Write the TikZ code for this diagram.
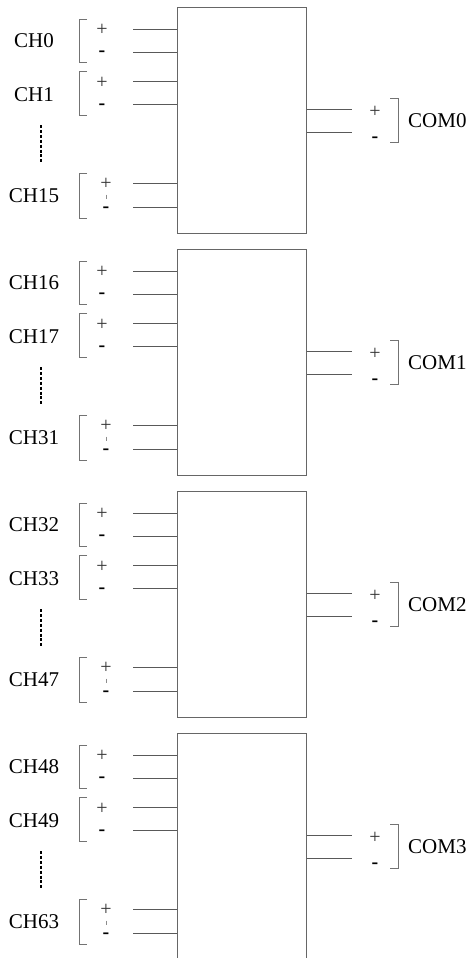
\documentclass[tikz,border=0pt]{standalone}
\usepackage{fontspec}
\setmainfont{Liberation Serif}

\tikzset{
  wire/.style={draw=black!65,line width=0.8pt},
  chbox/.style={draw=black!60,line width=0.9pt,inner sep=0pt,
    minimum width=129pt,minimum height=226pt,anchor=north west},
  brk/.style={draw=black!55,line width=0.8pt},
  chlabel/.style={font=\fontsize{21}{25}\selectfont,inner sep=0pt},
  plussign/.style={font=\fontsize{20}{24}\selectfont,inner sep=0pt,text=black!80},
  minussign/.style={font=\bfseries\fontsize{20}{24}\selectfont,inner sep=0pt},
}

\begin{document}
\begin{tikzpicture}[x=1pt,y=-1pt]
  \useasboundingbox (0,0) rectangle (469,958) ;
  \foreach \k in {0,...,3} {
    \pgfmathtruncatemacro{\cha}{16*\k}
    \pgfmathtruncatemacro{\chb}{16*\k+1}
    \pgfmathtruncatemacro{\chc}{16*\k+15}
    \begin{scope}[shift={(0,7+242*\k)}]
      \node[chbox] (box\k) at (177,0) {} ;
      % input wires
      \foreach \y/\n in {22/1,45/2,74/3,97/4,176/5,200/6} {
        \coordinate (in\k-\n) at (133,\y) ;
        \draw[wire] (in\k-\n) -- (in\k-\n -| box\k.west) ;
      }
      % output wires
      \foreach \y/\n in {102/1,125/2} {
        \coordinate (out\k-\n) at (352,\y) ;
        \draw[wire] (box\k.east |- out\k-\n) -- (out\k-\n) ;
      }
      % brackets
      \draw[brk] (87,12) -- (79,12) -- (79,55) -- (87,55) ;
      \draw[brk] (87,64) -- (79,64) -- (79,108) -- (87,108) ;
      \draw[brk] (87,166) -- (79,166) -- (79,211) -- (87,211) ;
      \draw[brk] (390,91) -- (398,91) -- (398,135) -- (390,135) ;
      % signs
      \node[plussign] (pa\k) at (102,23) {+} ;
      \node[minussign] (ma\k) at (102,47) {-} ;
      \node[plussign] (pb\k) at (102,76) {+} ;
      \node[minussign] (mb\k) at (102,100) {-} ;
      \node[plussign] (pc\k) at (106,177) {+} ;
      \draw[draw=black!45,line width=0.7pt] (106,187.5) -- (106,192) ;
      \node[minussign] (mc\k) at (106,203) {-} ;
      \node[plussign] (po\k) at (375,105) {+} ;
      \node[minussign] (mo\k) at (375,133) {-} ;
      % labels
      \node[chlabel] (cha\k) at (34,34) {CH\cha} ;
      \node[chlabel] (chb\k) at (34,88) {CH\chb} ;
      \node[chlabel] (chc\k) at (34,189) {CH\chc} ;
      \node[chlabel,anchor=west] (com\k) at (408,114) {COM\k} ;
      \draw[line width=2.6pt,dash pattern=on 3pt off 1.9pt] (41,118) -- (41,156) ;
    \end{scope}
  }
\end{tikzpicture}
\end{document}
